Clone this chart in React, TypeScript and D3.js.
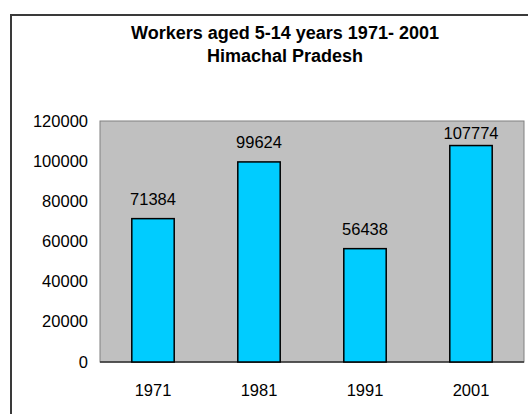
import React, { useEffect } from 'react';
import * as d3 from 'd3';

// chart data
const years = ['1971', '1981', '1991', '2001'];
const workers = [71384, 99624, 56438, 107774];
const yTicks = [0, 20000, 40000, 60000, 80000, 100000, 120000];
const titleLines = ['Workers aged 5-14 years 1971- 2001', 'Himachal Pradesh'];

const App = () => {
  useEffect(() => {
    document.body.style.margin = '0';
  }, []);

  const width = 528;
  const height = 414;
  const plot = { left: 100, top: 121, right: 524, bottom: 362 };
  const font = 'Arial, "Liberation Sans", Helvetica, sans-serif';

  const x = d3.scaleBand()
    .domain(years)
    .range([plot.left, plot.right])
    .padding(0);

  const y = d3.scaleLinear()
    .domain([0, 120000])
    .range([plot.bottom, plot.top]);

  const barW = x.bandwidth() * 0.4;

  return (
    <svg width={width} height={height} style={{ display: 'block', fontFamily: font }}>
      <rect x={0} y={0} width={width} height={height} fill="#ffffff" />
      {/* outer chart frame, runs off the right and bottom edges */}
      <rect x={11} y={15} width={540} height={420} fill="none" stroke="#3a3a3a" strokeWidth={2} />

      {titleLines.map((t, i) => (
        <text key={t} x={285} y={38.5 + i * 23.5} textAnchor="middle" fontSize={18} fontWeight="bold" fill="#000">
          {t}
        </text>
      ))}

      {/* plot area */}
      <rect
        x={plot.left}
        y={plot.top}
        width={plot.right - plot.left}
        height={plot.bottom - plot.top}
        fill="#c0c0c0"
        stroke="#808080"
        strokeWidth={1}
      />
      <line x1={plot.left} x2={plot.right} y1={plot.bottom} y2={plot.bottom} stroke="#333" strokeWidth={1.5} />

      {yTicks.map(t => (
        <text key={t} x={88} y={y(t) + 5.5} textAnchor="end" fontSize={16.5} fill="#000">
          {t}
        </text>
      ))}

      {years.map((yr, i) => {
        const cx = (x(yr) as number) + x.bandwidth() / 2;
        const v = workers[i];
        const labelY = Math.max(y(v) - 14, plot.top + 18);
        return (
          <g key={yr}>
            <rect
              x={cx - barW / 2}
              y={y(v)}
              width={barW}
              height={plot.bottom - y(v)}
              fill="#00ccff"
              stroke="#000"
              strokeWidth={1.5}
            />
            <text x={cx} y={labelY} textAnchor="middle" fontSize={16.5} fill="#000">
              {v}
            </text>
            <text x={cx} y={396} textAnchor="middle" fontSize={16.5} fill="#000">
              {yr}
            </text>
          </g>
        );
      })}
    </svg>
  );
};

export default App;
